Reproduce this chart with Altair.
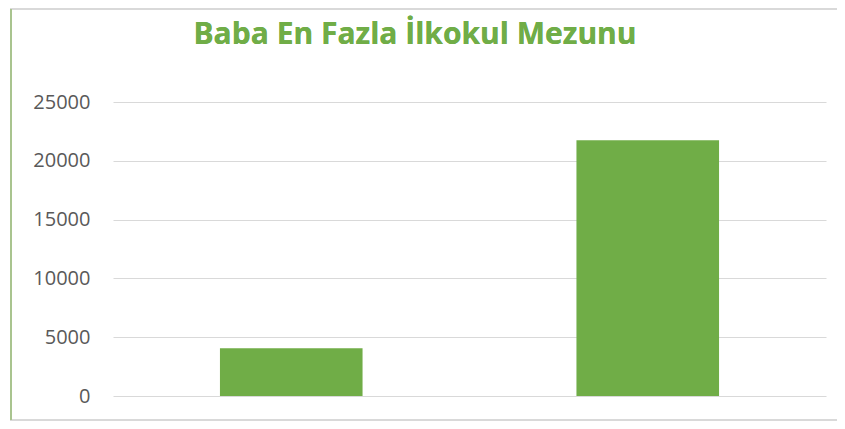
import altair as alt
import pandas as pd

categories = ["A", "B"]
values = [4050, 21750]
y_ticks = [0, 5000, 10000, 15000, 20000, 25000]
title_text = "Baba En Fazla İlkokul Mezunu"

df = pd.DataFrame({"cat": categories, "value": values})

GREEN = "#70AD47"

bars = alt.Chart(df).mark_bar(color=GREEN).encode(
    x=alt.X("cat:N", sort=categories, axis=None,
            scale=alt.Scale(paddingInner=0.6, paddingOuter=0.3)),
    y=alt.Y("value:Q", scale=alt.Scale(domain=[0, 25000], nice=False),
            axis=alt.Axis(values=y_ticks, format="d", title=None, domain=False, ticks=False,
                          labelPadding=23, labelFont="Open Sans", labelFontSize=20,
                          labelColor="#595959", gridColor="#D9D9D9", gridWidth=1.2)),
)

top_line = alt.Chart(df).mark_rule(color="#D9D9D9", strokeWidth=2).encode(
    x=alt.value(-103), x2=alt.value(724), y=alt.value(-93)
)
bottom_line = alt.Chart(df).mark_rule(color="#D9D9D9", strokeWidth=2).encode(
    x=alt.value(-103), x2=alt.value(724), y=alt.value(318)
)
left_line = alt.Chart(df).mark_rule(color="#A9C48F", strokeWidth=2).encode(
    x=alt.value(-102), y=alt.value(-93), y2=alt.value(318)
)
title = alt.Chart(df).mark_text(
    font="Open Sans", fontSize=30, fontWeight="bold", color=GREEN,
    align="center", baseline="alphabetic"
).encode(x=alt.value(302), y=alt.value(-58), text=alt.value(title_text))

chart = alt.layer(bars, top_line, bottom_line, left_line, title).properties(
    width=713,
    height=294,
    padding={"left": 105, "top": 94, "right": 11, "bottom": 25},
    autosize=alt.AutoSizeParams(type="none"),
    background="white",
).configure_view(stroke="transparent", strokeWidth=0)

chart.save("out.html", embed_options={"renderer": "svg", "actions": False})
